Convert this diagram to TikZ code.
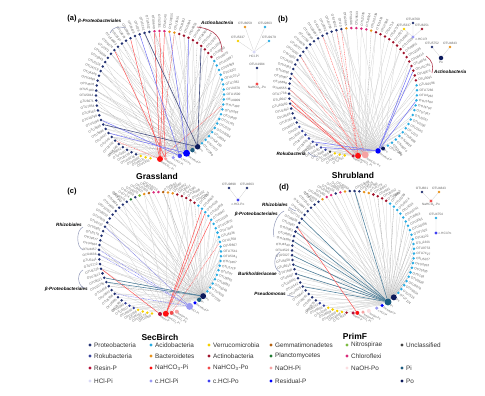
\documentclass[tikz,border=0pt]{standalone}
\usepackage{fontspec}
\setmainfont{Liberation Sans}
\usetikzlibrary{shapes,arrows}

\pgfdeclarelayer{links}
\pgfsetlayers{links,main}

\definecolor{pro}{HTML}{243373}
\definecolor{rok}{HTML}{34419A}
\definecolor{aci}{HTML}{29ABE2}
\definecolor{ver}{HTML}{F5D000}
\definecolor{bac}{HTML}{E8921C}
\definecolor{act}{HTML}{A0142C}
\definecolor{gem}{HTML}{B5610F}
\definecolor{pla}{HTML}{1F7A30}
\definecolor{nit}{HTML}{7DBB42}
\definecolor{chl}{HTML}{D92A7A}
\definecolor{unc}{HTML}{404040}
\definecolor{resin}{HTML}{B3123A}
\definecolor{bicpi}{HTML}{FF1010}
\definecolor{bicpo}{HTML}{F24A4A}
\definecolor{naohpi}{HTML}{F5A3A3}
\definecolor{naohpo}{HTML}{FBDDE0}
\definecolor{pinorg}{HTML}{1D5C7F}
\definecolor{hclpi}{HTML}{DADAF7}
\definecolor{chclpi}{HTML}{9A9AF2}
\definecolor{chclpo}{HTML}{4040F0}
\definecolor{resid}{HTML}{0000FF}
\definecolor{porg}{HTML}{0C1A5C}

% ring of OTUs: prefix, cx, cy, radius, first angle, colours (4.5 deg apart),
% sine above which top labels are laid flatter
\newcommand{\oturing}[7]{%
  \foreach \c [count=\i] in {#6}{%
    \pgfmathsetmacro\ang{#5+(\i-1)*4.5}%
    \pgfmathtruncatemacro\num{mod(\i*\i+#2,97)*113+mod(\i*53+#3,100)}%
    \pgfmathtruncatemacro\lft{cos(\ang)<0}%
    \pgfmathtruncatemacro\low{sin(\ang)<-0.8}%
    \pgfmathtruncatemacro\high{sin(\ang)>#7}%
    \ifnum\lft=1 \def\rot{\ang+180}\def\anc{east}\else\def\rot{\ang}\def\anc{west}\fi
    \ifnum\low=1 \ifnum\lft=1 \def\rot{28}\else\def\rot{-28}\fi\fi
    \ifnum\high=1 \ifnum\lft=1 \def\rot{-28}\else\def\rot{28}\fi\fi
    \node[otu,fill=\c,label={[otulab,rotate=\rot,anchor=\anc]\ang:OTU\num}]
      (#1\i) at ({#2+#4*cos(\ang)},{#3-#4*sin(\ang)}) {};
  }}
% P fraction on the ring: name, cx, cy, radius, angle, colour, size, text
\newcommand{\pfrac}[8]{%
  \node[pnode,fill=#6,minimum size=#7,label={[plab]#5:#8}]
    (#1) at ({#2+#4*cos(#5)},{#3-#4*sin(#5)}) {};}
% links from one P node to OTUs of a ring
\newcommand{\links}[4]{\foreach \j in {#4} \draw[#1] (#2) -- (#3\j);}

\begin{document}
\begin{tikzpicture}[x=1pt,y=-1pt]
\tikzstyle{otu}=[circle,inner sep=0pt,minimum size=2.8pt]
\tikzstyle{pnode}=[circle,inner sep=0pt]
\tikzstyle{otulab}=[font=\fontsize{3.2}{4}\selectfont,text=black!62,inner sep=0.7pt]
\tikzstyle{plab}=[font=\fontsize{2.8}{3.5}\selectfont,text=black!62,inner sep=0.5pt,rotate=-30,anchor=west]
\tikzstyle{gedge}=[draw=black!20,line width=0.25pt]
\tikzstyle{gdash}=[draw=black!32,line width=0.3pt,dash pattern=on 1pt off 0.7pt]
\tikzstyle{redge}=[draw=bicpi!75,line width=0.45pt]
\tikzstyle{rdash}=[draw=bicpi!65,line width=0.4pt,dash pattern=on 1pt off 0.7pt]
\tikzstyle{bedge}=[draw=chclpo!75,line width=0.5pt]
\tikzstyle{bdash}=[draw=chclpo!70,line width=0.4pt,dash pattern=on 1pt off 0.7pt]
\tikzstyle{tedge}=[draw=pinorg!80,line width=0.55pt]
\tikzstyle{nedge}=[draw=porg!75,line width=0.6pt]
\tikzstyle{pbrace}=[draw=pro!55,line width=0.45pt]
\tikzstyle{abrace}=[draw=act!85,line width=0.6pt]
\tikzstyle{title}=[font=\fontsize{8.5}{10}\selectfont\bfseries,inner sep=1pt]
\tikzstyle{panel}=[font=\fontsize{7.5}{9}\selectfont\bfseries]
\tikzstyle{taxon}=[font=\fontsize{4.6}{5.5}\selectfont\bfseries\itshape,inner sep=0pt]
\tikzstyle{legdot}=[circle,inner sep=0pt,minimum size=3.4pt]
\tikzstyle{legtext}=[font=\fontsize{6.4}{7.5}\selectfont,text=black!80,anchor=west,inner sep=0pt]
\useasboundingbox (0,0) rectangle (485,396);

% (a) Grassland
\oturing{a}{160}{95}{64}{-49}{aci,aci,aci,aci,aci,aci,aci,aci,aci,aci,
  aci,aci,aci,aci,aci,aci,aci,aci,aci,act,act,act,act,act,act,act,act,act,
  bac,bac,chl,chl,chl,pro,pro,pro,pro,pro,pro,pro,pro,pro,pro,
  pro,pro,pro,pro,pro,pro,pro,pro,pro,pro,pro,pro,pro,pro,pro,pro,pro,pro,pro,pro,
  pro,pro,pro,pro,ver,ver,ver}{2}
\pfrac{aBicPi}{160}{95}{64}{-90}{bicpi}{6pt}{NaHCO\textsubscript{3}-Pi}
\pfrac{aNaPi}{160}{95}{64}{-85}{naohpi}{3.5pt}{NaOH-Pi}
\pfrac{aChPi}{160}{95}{64}{-78}{chclpi}{3.5pt}{c.HCl-Pi}
\pfrac{aChPo}{160}{95}{64}{-72}{chclpo}{4.5pt}{c.HCl-Po}
\pfrac{aRes}{160}{95}{64}{-65.5}{resid}{7pt}{Residual-P}
\pfrac{aPi}{160}{95}{64}{-59.5}{pinorg}{4.5pt}{Pi}
\pfrac{aPo}{160}{95}{64}{-54}{porg}{5.5pt}{Po}
\begin{pgfonlayer}{links}
\links{gedge}{aPo}{a}{2,4,...,18}
\links{gedge}{aPo}{a}{21,23,...,67}
\links{gedge}{aPi}{a}{1,4,...,67}
\links{gedge}{aRes}{a}{3,7,...,67}
\links{gedge}{aBicPi}{a}{1,5,...,65}
\links{gdash}{aPi}{a}{6,15,...,66}
\links{gdash}{aChPo}{a}{5,12,...,68}
\links{redge}{aBicPi}{a}{31,33,38}
\links{rdash}{aBicPi}{a}{10,29,62}
\links{redge}{aNaPi}{a}{32,42}
\links{bedge}{aRes}{a}{26,30,60}
\links{bedge}{aChPo}{a}{36,57}
\links{nedge}{aPo}{a}{23,35,58}
\end{pgfonlayer}
\node[panel] (pa) at (72,19) {(a)};
\node[taxon,anchor=west] (ta1) at (78,21) {β-Proteobacteriales};
\draw[pbrace] (110,33) .. controls (112,27) and (119,26) .. (126,28);
\node[taxon,anchor=west] (ta2) at (201,23) {Actinobacteria};
\draw[abrace] (197,27) .. controls (215,29) and (222,38) .. (222,52);
\node[title] (grass) at (157,176) {Grassland};

% (b) Shrubland
\oturing{b}{353}{92}{64}{-57}{aci,aci,aci,aci,aci,aci,aci,aci,aci,aci,aci,aci,aci,aci,aci,
  act,act,act,act,act,act,act,act,act,act,act,act,act,act,bac,chl,chl,chl,chl,bac,
  pro,pro,pro,pro,pro,pro,pro,pro,pro,pro,pro,pro,pro,pro,pro,pro,pro,pro,pro,pro,
  pro,pro,pro,pro,pro,rok,rok,rok,rok,rok,rok,rok,rok,unc,ver,ver,ver}{2}
\pfrac{bResin}{353}{92}{64}{-90}{resin}{3.5pt}{Resin-P}
\pfrac{bBicPi}{353}{92}{64}{-85.5}{bicpi}{6pt}{NaHCO\textsubscript{3}-Pi}
\pfrac{bBicPo}{353}{92}{64}{-79}{naohpi}{7pt}{NaHCO\textsubscript{3}-Po}
\pfrac{bRes}{353}{92}{64}{-67}{resid}{5.5pt}{Residual-P}
\pfrac{bPo}{353}{92}{64}{-62}{porg}{4pt}{Po}
\begin{pgfonlayer}{links}
\links{gedge}{bBicPo}{b}{1,3,...,71}
\links{gedge}{bBicPi}{b}{2,5,...,71}
\links{gedge}{bRes}{b}{36,39,...,69}
\links{gedge}{bPo}{b}{20,24,...,68}
\links{gdash}{bBicPo}{b}{30,38,...,70}
\links{rdash}{bBicPi}{b}{36,37,46,53}
\links{redge}{bResin}{b}{55,56}
\links{rdash}{bBicPo}{b}{40,50}
\links{bedge}{bRes}{b}{12,18,19,65,67}
\end{pgfonlayer}
\node[panel] (pb) at (283,20) {(b)};
\node[taxon,anchor=east] (tb1) at (306,154) {Rokubacteria};
\draw[pbrace] (308,152) .. controls (311,156) and (315,157) .. (318,157);
\node[taxon,anchor=west] (tb2) at (434,72) {Actinobacteria};
\draw[abrace] (426,56) .. controls (432,60) and (434,66) .. (432,73);
\node[title] (shrub) at (353,175) {Shrubland};

% mini networks (a)/(b)
\node[otu,fill=bac,label={[otulab]90:OTU8059}] (m1) at (245,27) {};
\node[otu,fill=aci,label={[otulab]90:OTU2863}] (m2) at (265,27) {};
\node[otu,fill=ver,label={[otulab]90:OTU5337}] (m3) at (238,41) {};
\node[otu,fill=aci,label={[otulab]90:OTU9179}] (m4) at (269,41) {};
\node[pnode,fill=hclpi,minimum size=3.5pt,label={[otulab]-90:HCl-Pi}] (m5) at (254,52) {};
\node[otu,fill=pro,label={[otulab]90:OTU11984}] (m6) at (257,68) {};
\node[pnode,fill=bicpo,minimum size=3.2pt,label={[otulab]-90:NaHCO\textsubscript{3}-Po}] (m7) at (257,84) {};
\node[otu,fill=pro,label={[otulab]90:OTU4760}] (m8) at (413,23) {};
\node[otu,fill=ver,label={[otulab]90:OTU5337}] (m9) at (404,29) {};
\node[otu,fill=act,label={[otulab]90:OTU6251}] (m10) at (422,29) {};
\node[pnode,fill=chclpi,minimum size=3.2pt,label={[otulab]-15:c.HCl-Pi}] (m11) at (413,37) {};
\node[otu,fill=pro,label={[otulab]90:OTU5752}] (m12) at (432,47) {};
\node[otu,fill=bac,label={[otulab]90:OTU4843}] (m13) at (450,47) {};
\node[pnode,fill=porg,minimum size=4.5pt,label={[otulab]-90:Po}] (m14) at (441,58) {};
\begin{pgfonlayer}{links}
\draw[gedge] (m5) -- (m1) (m5) -- (m2) (m5) -- (m3) (m5) -- (m4) (m6) -- (m7);
\draw[gedge] (m11) -- (m8) (m11) -- (m9) (m11) -- (m10) (m14) -- (m12) (m14) -- (m13);
\end{pgfonlayer}

% (c) SecBirch
\oturing{c}{160}{253}{61}{-39}{aci,aci,aci,aci,aci,aci,aci,aci,aci,aci,
  aci,aci,aci,aci,aci,aci,aci,aci,aci,aci,aci,act,act,act,act,act,
  bac,bac,gem,chl,chl,gem,bac,nit,pro,pla,
  pro,pro,pro,pro,pro,pro,pro,pro,pro,pro,pro,pro,pro,pro,pro,pro,pro,pro,pro,pro,
  pro,pro,pro,pro,pro,rok,rok,rok,ver,ver,ver,ver}{0.8}
\pfrac{cResin}{160}{253}{61}{-90}{resin}{4pt}{Resin-P}
\pfrac{cBicPi}{160}{253}{61}{-84.5}{bicpi}{6pt}{NaHCO\textsubscript{3}-Pi}
\pfrac{cBicPo}{160}{253}{61}{-79}{bicpo}{4pt}{NaHCO\textsubscript{3}-Po}
\pfrac{cNaPi}{160}{253}{61}{-74}{naohpi}{4pt}{NaOH-Pi}
\pfrac{cHclPi}{160}{253}{61}{-61}{chclpi}{7pt}{HCl-Pi}
\pfrac{cRes}{160}{253}{61}{-55}{resid}{3.5pt}{Residual-P}
\pfrac{cPi}{160}{253}{61}{-50}{pinorg}{4.5pt}{Pi}
\pfrac{cPo}{160}{253}{61}{-45}{porg}{6pt}{Po}
\begin{pgfonlayer}{links}
\links{gedge}{cPo}{c}{1,3,...,67}
\links{gedge}{cPi}{c}{2,5,...,65}
\links{gedge}{cHclPi}{c}{20,24,...,64}
\links{gedge}{cBicPi}{c}{3,8,...,63}
\links{gdash}{cPo}{c}{22,29,...,64}
\links{redge}{cBicPi}{c}{17,19,20}
\links{redge}{cResin}{c}{53}
\links{rdash}{cBicPo}{c}{12}
\links{bdash}{cHclPi}{c}{44,49,50,59}
\links{tedge}{cPo}{c}{55,56}
\end{pgfonlayer}
\node[panel] (pc) at (72,192) {(c)};
\node[taxon,anchor=east] (tc1) at (82,225) {Rhizobiales};
\draw[pbrace] (83,227) .. controls (76,230) and (76,247) .. (83,250);
\node[taxon,anchor=east] (tc2) at (88,289) {β-Proteobacteriales};
\draw[pbrace] (83,270) .. controls (77,273) and (77,285) .. (84,288);
\node[title] (secb) at (160,337) {SecBirch};
\node[otu,fill=pro,label={[otulab]90:OTU9898}] (m15) at (229,188) {};
\node[otu,fill=pro,label={[otulab]90:OTU4663}] (m16) at (247,188) {};
\node[pnode,fill=chclpo,minimum size=3.2pt,label={[otulab]-90:c.HCl-Po}] (m17) at (238,200) {};
\begin{pgfonlayer}{links}
\draw[gedge] (m17) -- (m15) (m17) -- (m16);
\end{pgfonlayer}

% (d) PrimF
\oturing{d}{353}{252}{61}{-42}{aci,aci,aci,aci,aci,aci,aci,aci,aci,aci,aci,
  aci,aci,aci,aci,aci,aci,aci,aci,aci,aci,aci,act,act,act,act,
  bac,bac,pro,pro,pro,bac,chl,pro,chl,chl,bac,
  pro,pro,pro,pro,pro,pro,pro,pro,pro,pro,pro,pro,pro,pro,pro,pro,pro,pro,pro,pro,
  pro,pro,pro,pro,pro,rok,rok,ver,ver,ver,ver,act}{0.8}
\pfrac{dResin}{353}{252}{61}{-90}{resin}{3.5pt}{Resin-P}
\pfrac{dBicPi}{353}{252}{61}{-86}{bicpi}{4pt}{NaHCO\textsubscript{3}-Pi}
\pfrac{dNaPi}{353}{252}{61}{-80.5}{naohpi}{3.5pt}{NaOH-Pi}
\pfrac{dNaPo}{353}{252}{61}{-75}{naohpo}{4pt}{NaOH-Po}
\pfrac{dChPi}{353}{252}{61}{-67}{chclpi}{3.5pt}{c.HCl-Pi}
\pfrac{dRes}{353}{252}{61}{-61.5}{resid}{3.5pt}{Residual-P}
\pfrac{dPi}{353}{252}{61}{-55}{pinorg}{7pt}{Pi}
\pfrac{dPo}{353}{252}{61}{-48}{porg}{6pt}{Po}
\begin{pgfonlayer}{links}
\links{gedge}{dPi}{d}{1,3,...,69}
\links{gedge}{dPo}{d}{2,4,...,68}
\links{gdash}{dPi}{d}{5,9,...,25}
\links{gedge}{dRes}{d}{30,35,...,65}
\links{tedge}{dPi}{d}{30,43,46,48,51,53,55,58}
\links{redge}{dBicPi}{d}{45}
\end{pgfonlayer}
\node[panel] (pd) at (284,188) {(d)};
\node[taxon,anchor=east] (td1) at (288,205) {Rhizobiales};
\draw[pbrace] (289,207) .. controls (291,209) and (293,210) .. (296,211);
\node[taxon,anchor=east] (td2) at (278,214) {β-Proteobacteriales};
\draw[pbrace] (284,211) .. controls (276,215) and (272,228) .. (274,237);
\node[taxon,anchor=east] (td3) at (277,274) {Burkholderiaceae};
\draw[pbrace] (280,252) .. controls (273,256) and (273,269) .. (280,272);
\node[taxon,anchor=east] (td4) at (286,294) {Pseudomonas};
\draw[pbrace] (287,295) -- (294,297);
\node[title] (primf) at (355,336) {PrimF};
\node[otu,fill=pro,label={[otulab]90:OTU881}] (m18) at (422,192) {};
\node[otu,fill=bac,label={[otulab]90:OTU4843}] (m19) at (439,192) {};
\node[pnode,fill=bicpo,minimum size=3.2pt,label={[otulab]-90:NaHCO\textsubscript{3}-Po}] (m20) at (431,201) {};
\node[otu,fill=aci,label={[otulab]90:OTU4754}] (m21) at (436,218) {};
\node[pnode,fill=chclpo,minimum size=3.2pt,label={[otulab]0:c.HCl-Po}] (m22) at (436,233) {};
\begin{pgfonlayer}{links}
\draw[gedge] (m20) -- (m18) (m20) -- (m19) (m22) -- (m21);
\end{pgfonlayer}

% legend
\foreach \x/\y/\c/\t [count=\k] in {90/345/pro/Proteobacteria, 151/345/aci/Acidobacteria,
  209/345/ver/Verrucomicrobia, 271/345/gem/Gemmatimonadetes, 347/345/nit/Nitrospirae,
  402/345/unc/Unclassified, 90/356/rok/Rokubacteria, 151/356/bac/Bacteroidetes,
  209/356/act/Actinobacteria, 271/356/pla/Planctomycetes, 347/356/chl/Chloroflexi,
  90/368/resin/Resin-P, 151/368/bicpi/NaHCO\textsubscript{3}-Pi,
  209/368/bicpo/NaHCO\textsubscript{3}-Po, 271/368/naohpi/NaOH-Pi, 347/368/naohpo/NaOH-Po,
  402/368/pinorg/Pi, 90/381/hclpi/HCl-Pi, 151/381/chclpi/c.HCl-Pi, 209/381/chclpo/c.HCl-Po,
  271/381/resid/Residual-P, 402/381/porg/Po}{
  \node[legdot,fill=\c] (lg\k) at (\x,\y) {};
  \node[legtext] (lt\k) at (\x+4,\y) {\t};
}
\end{tikzpicture}
\end{document}
